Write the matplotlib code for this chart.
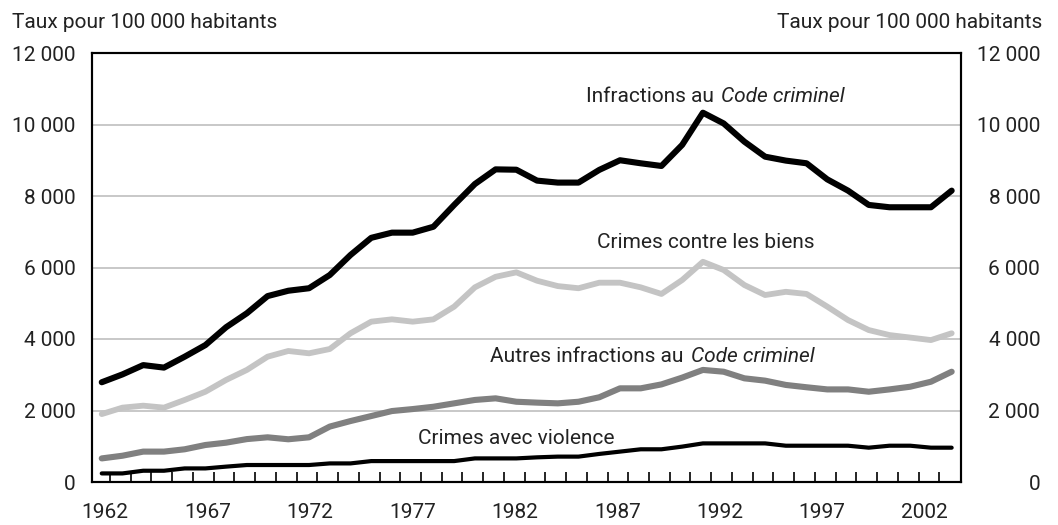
import matplotlib.pyplot as plt
import numpy as np

# taux pour 100 000 habitants, 1962-2003
annees = list(range(1962, 2004))
infractions_cc = [2790, 3010, 3270, 3200, 3505, 3830, 4330, 4720, 5200, 5350,
                  5420, 5790, 6350, 6830, 6975, 6975, 7140, 7750, 8335, 8745,
                  8735, 8430, 8375, 8375, 8730, 9000, 8915, 8840, 9430, 10330,
                  10030, 9520, 9100, 8990, 8915, 8465, 8150, 7750, 7685, 7685,
                  7685, 8150]
crimes_biens = [1900, 2080, 2135, 2080, 2295, 2525, 2855, 3135, 3505, 3665,
                3600, 3720, 4160, 4485, 4550, 4485, 4550, 4905, 5445, 5740,
                5865, 5630, 5480, 5420, 5575, 5575, 5445, 5260, 5650, 6160,
                5930, 5510, 5230, 5320, 5260, 4905, 4530, 4250, 4110, 4040,
                3970, 4160]
autres_cc = [660, 735, 850, 850, 915, 1035, 1100, 1200, 1250, 1195,
             1250, 1550, 1705, 1845, 1985, 2040, 2105, 2200, 2295, 2340,
             2245, 2220, 2200, 2245, 2370, 2620, 2620, 2730, 2920, 3135,
             3085, 2900, 2835, 2715, 2650, 2590, 2590, 2525, 2590, 2665,
             2805, 3085]
crimes_violence = [240, 240, 315, 315, 380, 380, 430, 475, 475, 475,
                   475, 520, 520, 585, 585, 585, 585, 585, 660, 660,
                   660, 690, 710, 710, 785, 850, 915, 915, 990, 1080,
                   1080, 1080, 1080, 1015, 1015, 1015, 1015, 960, 1015, 1015,
                   960, 960]

y_ticks = [0, 2000, 4000, 6000, 8000, 10000, 12000]
y_labels = ["0", "2 000", "4 000", "6 000", "8 000", "10 000", "12 000"]
x_labels = ["1962", "1967", "1972", "1977", "1982", "1987", "1992", "1997", "2002"]

plt.rcParams['font.family'] = ['Roboto', 'DejaVu Sans']
plt.rcParams['font.size'] = 15
plt.rcParams['text.color'] = '#222222'

W, H = 1058, 525
fig = plt.figure(figsize=(W / 100, H / 100), dpi=100)
ax = fig.add_axes([92 / W, (H - 482) / H, (961 - 92) / W, (482 - 53) / H])

ax.plot(annees, crimes_violence, c='black', lw=3.0, solid_capstyle='round', zorder=3)
ax.plot(annees, autres_cc, c='#808080', lw=4.4, solid_capstyle='round', zorder=3)
ax.plot(annees, crimes_biens, c='#c4c4c4', lw=4.2, solid_capstyle='round', zorder=3)
ax.plot(annees, infractions_cc, c='black', lw=4.4, solid_capstyle='round', zorder=4)

ax.set_xlim(1961.53, 2003.45)
ax.set_ylim(0, 12000)
ax.set_yticks(y_ticks)
ax.set_yticklabels(y_labels)
ax.tick_params(axis='y', length=0, pad=12, labelsize=15, labelcolor='#222222')
for y in y_ticks[1:-1]:
    ax.axhline(y, color='#c8c8c8', lw=1.4, zorder=1)

ax.set_xticks(np.linspace(1962.15, 2001.7, len(x_labels)))
ax.set_xticklabels(x_labels)
ax.set_xticks(np.arange(1962.4, 2003, 1.0), minor=True)
ax.tick_params(axis='x', which='major', length=0, pad=15, labelsize=15, labelcolor='#222222')
ax.tick_params(axis='x', which='minor', direction='in', length=7.5, width=1.2)

for s in ax.spines.values():
    s.set_linewidth(1.5)

ax2 = ax.twinx()
ax2.set_ylim(0, 12000)
ax2.set_yticks(y_ticks)
ax2.set_yticklabels(y_labels, ha='right')
ax2.tick_params(axis='y', length=0, pad=57, labelsize=15, labelcolor='#222222')
for s in ax2.spines.values():
    s.set_linewidth(1.5)


def px(x, y):
    return x / W, 1 - y / H


fig.text(*px(12, 22), "Taux pour 100 000 habitants", ha='left', va='center')
fig.text(*px(1042, 22), "Taux pour 100 000 habitants", ha='right', va='center')

# libellés des séries
fig.text(*px(714, 96), "Infractions au", ha='right', va='center')
fig.text(*px(721, 96), "Code criminel", ha='left', va='center', style='italic')
fig.text(*px(706, 242), "Crimes contre les biens", ha='center', va='center')
fig.text(*px(684, 357), "Autres infractions au", ha='right', va='center')
fig.text(*px(691, 357), "Code criminel", ha='left', va='center', style='italic')
fig.text(*px(516, 438), "Crimes avec violence", ha='center', va='center')

plt.savefig("out.png", dpi=100)
